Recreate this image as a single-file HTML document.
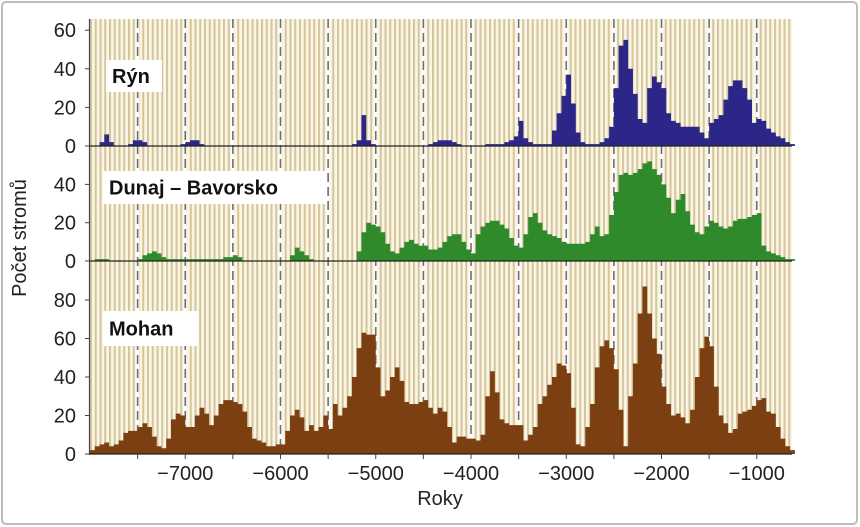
<!DOCTYPE html>
<html><head><meta charset="utf-8"><style>
html,body{margin:0;padding:0;background:#fff;}
svg{display:block;font-family:"Liberation Sans",Arial,sans-serif;}
</style></head><body>
<svg id="chart" width="860" height="527" viewBox="0 0 860 527" xmlns="http://www.w3.org/2000/svg">
<rect x="2" y="2" width="855" height="522" rx="4" fill="#fff" stroke="#bdbdbd" stroke-width="2"/>
<defs>
<pattern id="stripes" x="90" y="0" width="4.75" height="10" patternUnits="userSpaceOnUse">
<rect width="4.75" height="10" fill="#faf6e6"/>
<rect x="0" width="2" height="10" fill="#d6c49a"/>
</pattern>
</defs>
<rect x="90" y="19" width="702" height="435" fill="url(#stripes)"/>
<g id="grid"></g>
<g id="series"></g>
<g id="axes"></g>
<text transform="translate(26,238) rotate(-90)" text-anchor="middle" font-size="20" fill="#222">Počet stromů</text>
<text x="440" y="505" text-anchor="middle" font-size="20" fill="#222">Roky</text>
</svg>
<script>
const startYear = -8000;
const stepYears = 50;
const rynValues = [0,0,2,6,2,0,0,0,1,3, 3,2,0,0,0,0,0,0,0,1, 2,3,3,1,0,0,0,0,0,0, 0,0,0,0,0,0,0,0,0,0, 0,0,0,0,0,0,0,0,0,0, 0,0,0,0,0,1,3,16,3,1, 0,0,0,0,0,0,0,0,0,0, 0,1,2,3,3,3,2,1,0,0, 0,0,0,1,1,1,1,2,3,5, 13,4,2,1,1,1,1,8,17,26, 37,22,7,2,1,1,1,2,4,10, 30,52,55,40,27,14,12,30,36,33, 30,17,13,12,10,10,10,10,7,4, 12,14,16,24,31,34,34,30,24,12, 14,13,9,7,5,4,2,1];
const dunajValues = [0,1,1,1,0,0,0,0,0,0, 1,3,4,5,4,2,1,1,1,1, 1,1,1,1,1,1,1,1,2,2, 3,2,0,0,0,0,0,0,0,0, 0,0,3,7,5,3,1,0,0,0, 0,0,0,0,0,0,5,15,20,19, 18,15,9,5,4,7,10,11,9,8, 8,6,6,7,10,13,14,14,10,6, 4,14,18,20,21,21,19,17,12,8, 7,14,23,25,20,16,14,13,12,10, 9,9,9,9,10,14,18,13,14,24, 36,45,46,45,46,48,51,52,48,45, 40,33,25,32,35,26,19,15,14,18, 21,20,18,17,18,21,22,22,23,24, 25,8,5,4,3,2,1,1];
const mohanValues = [2,4,5,6,4,5,7,11,12,12, 14,16,14,9,4,3,8,18,21,20, 14,14,20,24,21,15,20,26,28,28, 27,26,22,14,8,7,6,4,4,5, 5,12,20,23,19,12,15,12,14,20, 13,26,20,24,30,40,55,63,62,62, 45,30,33,40,45,38,27,26,26,27, 28,24,21,24,22,14,6,9,9,8, 8,7,10,30,43,32,18,16,15,15, 15,7,10,14,26,30,36,40,47,46, 42,24,5,4,14,26,45,56,59,55, 44,23,4,30,47,73,87,73,60,52, 35,26,20,21,19,16,23,40,55,61, 56,35,20,16,11,13,21,22,23,25, 28,29,22,21,14,8,4,2];
const xTickYears = [-7000,-6000,-5000,-4000,-3000,-2000,-1000];
const dashYears = [-7500,-7000,-6500,-6000,-5500,-5000,-4500,-4000,-3500,-3000,-2500,-2000,-1500,-1000];
const rynTicks = [0,20,40,60];
const dunajTicks = [0,20,40];
const mohanTicks = [0,20,40,60,80];

const NS = "http://www.w3.org/2000/svg";
const xDomain = [-8000, -630];
const xRange = [90, 792];
function x(year){ return xRange[0] + (year - xDomain[0]) / (xDomain[1] - xDomain[0]) * (xRange[1] - xRange[0]); }
function makeY(base, pxPerUnit){ return v => base - v * pxPerUnit; }
const panels = [
  {name:"ryn", label:"Rýn", values:rynValues, ticks:rynTicks, y:makeY(146,1.93), color:"#2b2688", box:[106,60,56,32]},
  {name:"dunaj", label:"Dunaj – Bavorsko", values:dunajValues, ticks:dunajTicks, y:makeY(261,1.915), color:"#2e8a2a", box:[103,171,224,33]},
  {name:"mohan", label:"Mohan", values:mohanValues, ticks:mohanTicks, y:makeY(454,1.925), color:"#7c3f12", box:[103,311,95,35]}
];
function el(tag, attrs, parent){ const e=document.createElementNS(NS,tag); for(const k in attrs) e.setAttribute(k,attrs[k]); parent.appendChild(e); return e; }

const grid = document.getElementById('grid');
dashYears.forEach(yr => {
  const w = el('line',{x1:x(yr),x2:x(yr),y1:19,y2:454,stroke:'#ffffff','stroke-width':3},grid);
  
  
  const d = el('line',{x1:x(yr),x2:x(yr),y1:19,y2:454,stroke:'#6e6e78','stroke-width':1.6,'stroke-dasharray':'9 5'},grid);
  
  
});

const series = document.getElementById('series');
const axes = document.getElementById('axes');
panels.forEach(p => {
  const y = p.y;
  let d = `M${x(startYear)},${y(0)}`;
  p.values.forEach((v,i) => {
    const y0 = startYear + i*stepYears;
    d += ` L${x(y0)},${y(v)} L${x(y0+stepYears)},${y(v)}`;
  });
  d += ` L${x(startYear + p.values.length*stepYears)},${y(0)} Z`;
  const path = el('path',{d:d,fill:p.color},series);
  
  
  const base = el('line',{x1:90,x2:792,y1:y(0),y2:y(0),stroke:'#222','stroke-width':1.2},series);
  
  
  const box = el('rect',{x:p.box[0],y:p.box[1],width:p.box[2],height:p.box[3],fill:'#ffffff'},series);
  
  
  const t = el('text',{x:p.box[0]+6,y:p.box[1]+p.box[3]/2+7,'font-size':20,'font-weight':'bold',fill:'#111'},series);
  t.textContent = p.label;
  
  
  p.ticks.forEach(v => {
    const tk = el('line',{x1:85,x2:90,y1:y(v),y2:y(v),stroke:'#444','stroke-width':1},axes);
    
    
    const lb = el('text',{x:76,y:y(v)+7,'text-anchor':'end','font-size':20,fill:'#222'},axes);
    lb.textContent = v;
    
    
  });
});
const yAxis = el('line',{x1:89.5,x2:89.5,y1:19,y2:455,stroke:'#444','stroke-width':1.2},axes);


dashYears.forEach(yr => {
  const tk = el('line',{x1:x(yr),x2:x(yr),y1:454,y2:459,stroke:'#444','stroke-width':1},axes);
  
  
});
xTickYears.forEach(yr => {
  const lb = el('text',{x:x(yr),y:480,'text-anchor':'middle','font-size':20,fill:'#222'},axes);
  lb.textContent = '\u2212' + Math.abs(yr);
  
  
});
</script>
</body></html>
